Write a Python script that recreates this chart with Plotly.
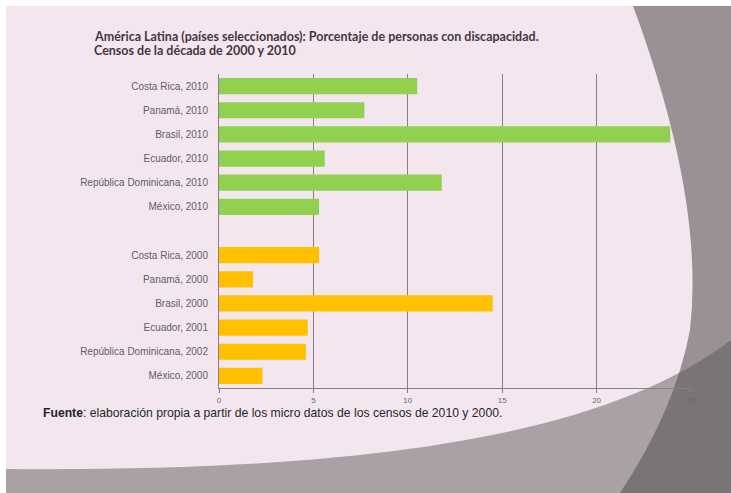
import plotly.graph_objects as go

W, H = 731, 493
ML, MR, MT, MB = 219, 40, 74, 105
PW, PH = W - ML - MR, H - MT - MB

labels_2010 = ["Costa Rica, 2010", "Panamá, 2010", "Brasil, 2010", "Ecuador, 2010",
               "República Dominicana, 2010", "México, 2010"]
values_2010 = [10.5, 7.7, 23.9, 5.6, 11.8, 5.3]
spacer = " "
labels_2000 = ["Costa Rica, 2000", "Panamá, 2000", "Brasil, 2000", "Ecuador, 2001",
               "República Dominicana, 2002", "México, 2000"]
values_2000 = [5.3, 1.8, 14.5, 4.7, 4.6, 2.3]
x_ticks = [0, 5, 10, 15, 20, 25]

title_lines = ["América Latina (países seleccionados): Porcentaje de personas con discapacidad.",
               "Censos de la década de 2000 y 2010"]
source_note = "<b>Fuente</b>: elaboración propia a partir de los micro datos de los censos de 2010 y 2000."

category_order = labels_2010 + [spacer] + labels_2000


def px(x):
    return (x - ML) / PW


def py(y):
    return (H - MB - y) / PH


def path(points, close=True):
    s = ""
    for cmd, *coords in points:
        vals = []
        for j in range(0, len(coords), 2):
            vals.append(f"{px(coords[j]):.5f},{py(coords[j+1]):.5f}")
        s += cmd + " ".join(vals) + " "
    if close:
        s += "Z"
    return s


fig = go.Figure()
fig.add_trace(go.Bar(
    y=labels_2010 + [spacer], x=values_2010 + [None], orientation="h",
    marker=dict(color="#92D050", line=dict(width=0)), hoverinfo="x+y"))
fig.add_trace(go.Bar(
    y=labels_2000, x=values_2000, orientation="h",
    marker=dict(color="#FFC000", line=dict(width=0)), hoverinfo="x+y"))

shapes = []
shapes.append(dict(type="rect", xref="paper", yref="paper", layer="below",
                   x0=px(6), x1=px(731), y0=py(493), y1=py(6),
                   fillcolor="#f3e6ee", line=dict(width=0)))
shapes.append(dict(type="path", xref="paper", yref="paper", layer="below",
                   path=path([("M", 633, 6), ("Q", 705, 200, 690, 330), ("Q", 675, 410, 620, 493),
                              ("L", 731, 493), ("L", 731, 6)]),
                   fillcolor="#9a9195", line=dict(width=0)))
shapes.append(dict(type="path", xref="paper", yref="paper", layer="below",
                   path=path([("M", 6, 469), ("C", 350, 472, 600, 440, 731, 340),
                              ("L", 731, 493), ("L", 6, 493)]),
                   fillcolor="rgba(85,82,81,0.47)", line=dict(width=0)))
fig.update_layout(shapes=shapes)

fig.add_annotation(xref="paper", yref="paper", x=px(92), y=py(37), xanchor="left", yanchor="middle",
                   text="<b>" + title_lines[0] + "</b>", showarrow=False,
                   font=dict(family="Lato", size=12.5, color="#45363f"))
fig.add_annotation(xref="paper", yref="paper", x=px(92), y=py(51), xanchor="left", yanchor="middle",
                   text="<b>" + title_lines[1] + "</b>", showarrow=False,
                   font=dict(family="Lato", size=12.5, color="#45363f"))
fig.add_annotation(xref="paper", yref="paper", x=px(41), y=py(413), xanchor="left", yanchor="middle",
                   text=source_note, showarrow=False,
                   font=dict(family="Liberation Sans", size=12.2, color="#262626"))

fig.update_layout(
    width=W, height=H,
    margin=dict(l=ML, r=MR, t=MT, b=MB, pad=0),
    paper_bgcolor="white", plot_bgcolor="rgba(0,0,0,0)",
    barmode="overlay", bargap=0.33, showlegend=False,
    font=dict(family="Liberation Sans", size=10, color="#595959"),
    xaxis=dict(range=[0, 25], tickvals=x_ticks, showgrid=True, gridcolor="#858085", gridwidth=1,
               zeroline=False, showline=True, linecolor="#858085", linewidth=1,
               ticks="outside", ticklen=4, tickcolor="#858085",
               tickfont=dict(size=8, color="#6a6a6a")),
    yaxis=dict(type="category", categoryorder="array", categoryarray=category_order,
               autorange="reversed", showgrid=False, zeroline=False,
               showline=True, linecolor="#858085", linewidth=1,
               ticks="", ticklabelstandoff=8,
               tickfont=dict(size=10, color="#5f5f5f")),
)

fig.write_html("out.html", config={"displayModeBar": False},
               post_script="document.body.style.margin='0';document.body.style.overflow='hidden';")
